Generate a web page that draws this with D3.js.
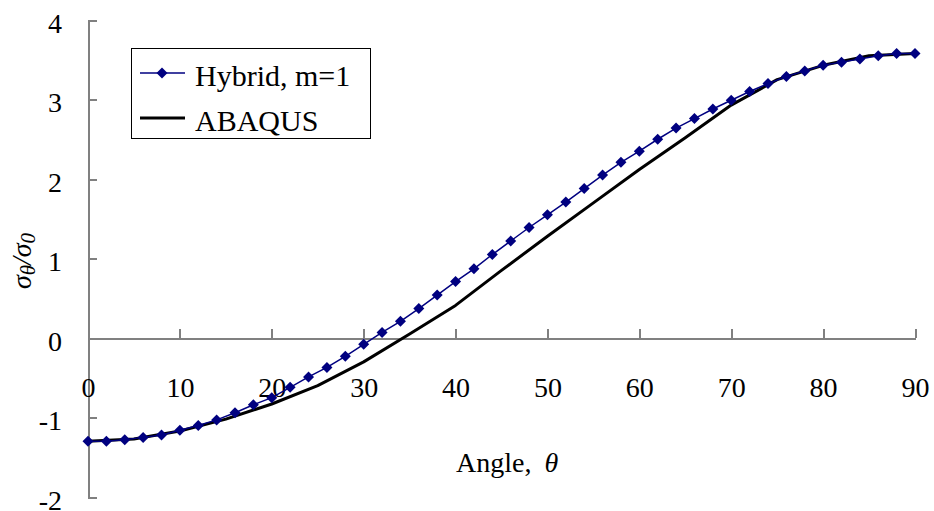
<!DOCTYPE html>
<html lang="en">
<head>
  <meta charset="UTF-8">
  <title>Hoop stress vs angle</title>
  <script src="https://d3js.org/d3.v7.min.js"></script>
  <style>
    html, body { margin: 0; padding: 0; background: #fff; }
    svg { display: block; }
    text { font-family: "Liberation Serif", "Times New Roman", serif; fill: #000; }
    .axis path, .axis line { stroke: #808080; stroke-width: 2px; shape-rendering: crispEdges; }
    .axis text { font-size: 28px; }
  </style>
</head>
<body>
  <div id="container"></div>
  <script>
    // data
    const hybridAngle = [0, 2, 4, 6, 8, 10, 12, 14, 16, 18, 20, 22, 24, 26, 28, 30, 32, 34, 36, 38, 40, 42, 44,
      46, 48, 50, 52, 54, 56, 58, 60, 62, 64, 66, 68, 70, 72, 74, 76, 78, 80, 82, 84, 86, 88, 90]
    const hybridStress = [-1.30, -1.30, -1.28, -1.25, -1.22, -1.16, -1.10, -1.03, -0.94, -0.84, -0.75, -0.62,
      -0.49, -0.37, -0.23, -0.08, 0.07, 0.21, 0.37, 0.54, 0.71, 0.87, 1.05, 1.22, 1.39, 1.55, 1.71, 1.88,
      2.05, 2.21, 2.35, 2.50, 2.64, 2.76, 2.88, 2.99, 3.10, 3.20, 3.29, 3.36, 3.43, 3.47, 3.51, 3.55, 3.58, 3.58]
    const abaqusAngle = [0, 5, 10, 15, 20, 25, 30, 35, 40, 45, 50, 55, 60, 65, 70, 75, 80, 85, 90]
    const abaqusStress = [-1.30, -1.27, -1.17, -1.02, -0.83, -0.60, -0.30, 0.05, 0.41, 0.85, 1.28, 1.70,
      2.12, 2.52, 2.93, 3.25, 3.43, 3.55, 3.58]
    const xTicks = [0, 10, 20, 30, 40, 50, 60, 70, 80, 90]
    const yTicks = [-2, -1, 0, 1, 2, 3, 4]
    const seriesNames = ['Hybrid, m=1', 'ABAQUS']

    const width = 934
    const height = 511

    const svg = d3.select('#container').append('svg')
      .attr('width', width).attr('height', height)

    const xScale = d3.scaleLinear().domain([0, 90]).range([88, 915])
    const yScale = d3.scaleLinear().domain([-2, 4]).range([497, 20])

    // plain hyphen for negatives, like the original
    const fmt = d => String(d)

    // axes - ticks point inward, x axis sits at y = 0
    const yAxis = d3.axisLeft(yScale).tickValues(yTicks).tickFormat(fmt)
      .tickSizeInner(-9).tickSizeOuter(0).tickPadding(26)
    svg.append('g').attr('class', 'axis y-axis')
      .attr('transform', `translate(${xScale(0)},0)`)
      .call(yAxis)
      .selectAll('text').attr('dy', 12)

    const xAxis = d3.axisBottom(xScale).tickValues(xTicks).tickFormat(fmt)
      .tickSizeInner(-9).tickSizeOuter(0).tickPadding(0)
    svg.append('g').attr('class', 'axis x-axis')
      .attr('transform', `translate(0,${yScale(0)})`)
      .call(xAxis)
      .selectAll('text').attr('y', 0).attr('dy', 59)

    const abaqus = abaqusAngle.map((a, i) => ({x: a, y: abaqusStress[i]}))
    const hybrid = hybridAngle.map((a, i) => ({x: a, y: hybridStress[i]}))

    const line = d3.line().x(d => xScale(d.x)).y(d => yScale(d.y))

    // ABAQUS curve
    svg.append('path').datum(abaqus)
      .attr('d', line)
      .attr('fill', 'none').attr('stroke', '#000').attr('stroke-width', 3)
      .attr('stroke-linejoin', 'round')

    // hybrid series
    svg.append('path').datum(hybrid)
      .attr('d', line)
      .attr('fill', 'none').attr('stroke', '#000080').attr('stroke-width', 1.5)

    const diamond = (r) => `M0,${-r}L${r},0L0,${r}L${-r},0Z`

    svg.selectAll('.pt').data(hybrid).enter().append('path')
      .attr('class', 'pt')
      .attr('d', diamond(5.5))
      .attr('transform', d => `translate(${xScale(d.x)},${yScale(d.y)})`)
      .attr('fill', '#000080')

    // axis titles
    svg.append('text')
      .attr('x', 456).attr('y', 472)
      .style('font-size', '28px')
      .text('Angle, ')
      .append('tspan').attr('dx', 6).style('font-style', 'italic').text('θ')

    const yTitle = svg.append('text')
      .attr('transform', 'translate(31,261) rotate(-90)')
      .attr('text-anchor', 'middle')
      .style('font-size', '28px').style('font-style', 'italic')
    yTitle.append('tspan').text('σ')
    yTitle.append('tspan').style('font-size', '21px').attr('dy', 4).text('θ')
    yTitle.append('tspan').attr('dy', -4).text('/')
    yTitle.append('tspan').text('σ')
    yTitle.append('tspan').style('font-size', '21px').attr('dy', 4).text('0')

    // legend
    const legend = svg.append('g')
    legend.append('rect')
      .attr('x', 131.5).attr('y', 48.5).attr('width', 239).attr('height', 90)
      .attr('fill', '#fff').attr('stroke', '#000').attr('stroke-width', 1)

    legend.append('line').attr('x1', 140).attr('x2', 185).attr('y1', 73).attr('y2', 73)
      .attr('stroke', '#000080').attr('stroke-width', 1.5)
    legend.append('path').attr('d', diamond(5.5)).attr('transform', 'translate(162,73)')
      .attr('fill', '#000080')
    legend.append('line').attr('x1', 140).attr('x2', 185).attr('y1', 118).attr('y2', 118)
      .attr('stroke', '#000').attr('stroke-width', 3)

    legend.selectAll('.lab').data(seriesNames).enter().append('text')
      .attr('class', 'lab')
      .attr('x', 195).attr('y', (d, i) => 86 + i * 45)
      .style('font-size', '30px')
      .text(d => d)
  </script>
</body>
</html>
